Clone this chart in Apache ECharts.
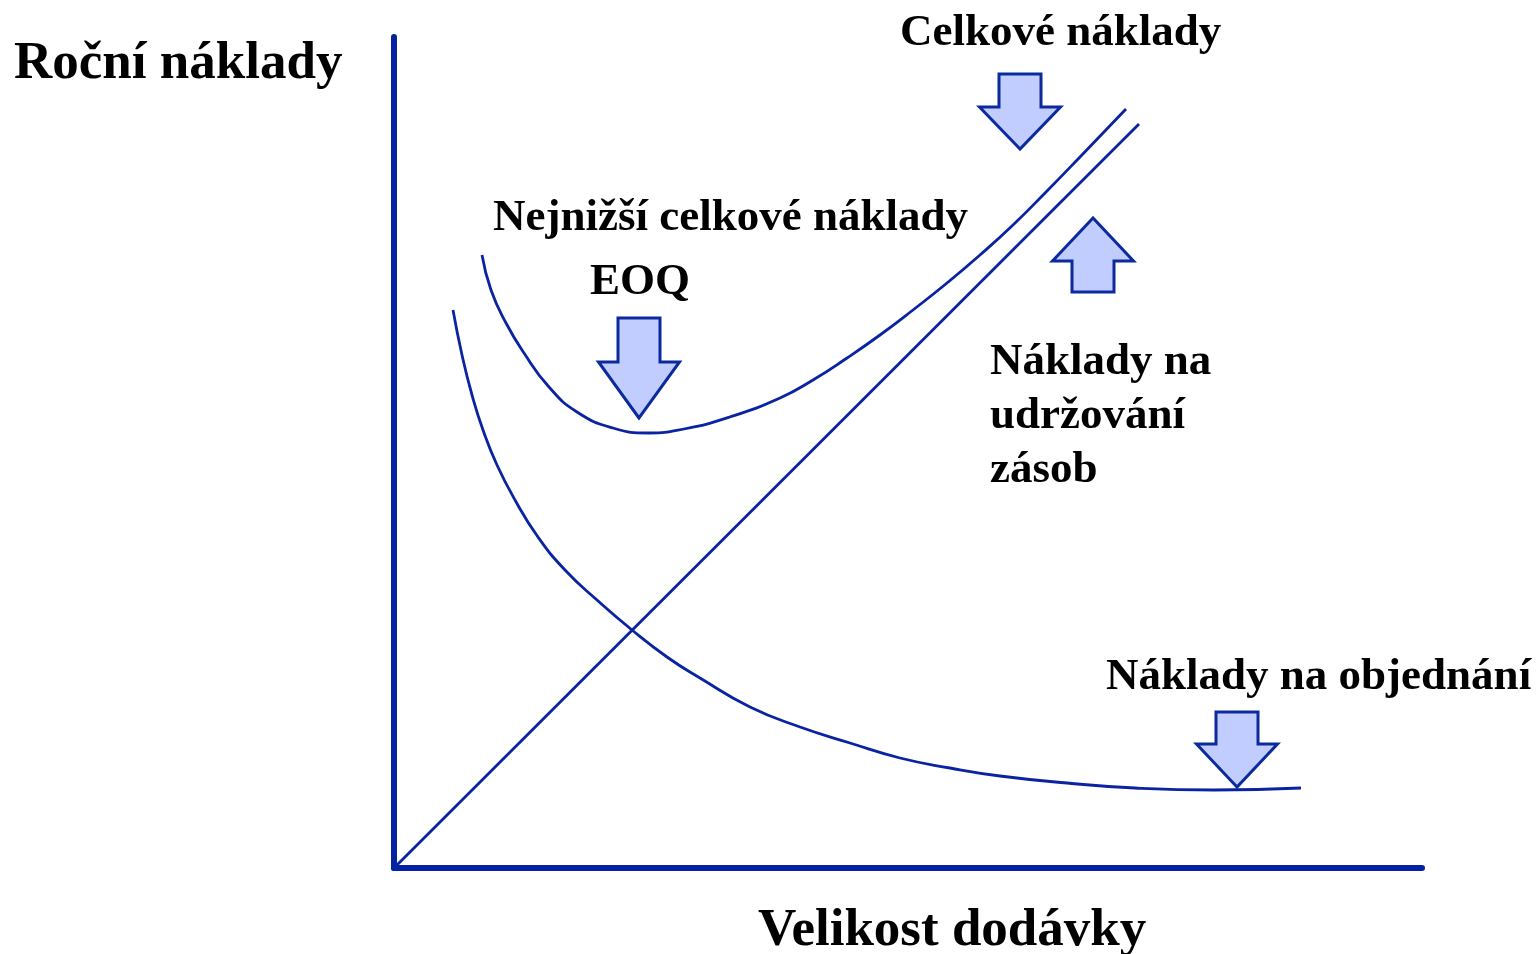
<!DOCTYPE html>
<html>
<head>
<meta charset="utf-8">
<script src="https://cdn.jsdelivr.net/npm/echarts@6/dist/echarts.min.js"></script>
<style>
html, body { margin: 0; padding: 0; background: #fff; }
#chart { width: 1539px; height: 954px; }
</style>
</head>
<body>
<div id="chart"></div>
<script>
// hodnoty, jednotky os = pixely od počátku os
// náklady na udržování zásob (přímka)
const holdingCost = [[2, 2], [745, 744]];
// náklady na objednání
const orderingCost = [
  [59, 558], [68, 513], [78, 473], [89, 438], [103, 403], [121, 368],
  [144, 331], [171, 298], [203, 268], [238, 238], [273, 211], [306, 190],
  [356, 161], [406, 141], [456, 125], [506, 110], [556, 100], [606, 92],
  [673, 85], [741, 80], [820, 78], [907, 80]
];
// celkové náklady
const totalCost = [
  [88, 613], [97, 578], [112, 545], [130, 515], [155, 481], [183, 456],
  [219, 440], [255, 435], [290, 439], [336, 451], [386, 470], [419, 488],
  [453, 510], [486, 533], [519, 558], [553, 585], [586, 613], [619, 643],
  [653, 677], [686, 711], [732, 759]
];
// špičky šipek (EOQ, celkové, udržování, objednání)
const arrowTips = [[245, 450], [626, 719], [699, 650], [843, 81]];

const lineColor = "#0a23a0";
const axisColor = "#0522a3";
// tvar šipek: směr, délka, výška hrotu (px)
const arrowShapes = [
  { dir: "down", len: 100, head: 56 },
  { dir: "down", len: 75, head: 42 },
  { dir: "up", len: 74, head: 43 },
  { dir: "down", len: 75, head: 43 },
];

const chart = echarts.init(document.getElementById("chart"));

const font = (size) => "bold " + size + 'px "Liberation Serif", "Times New Roman", serif';
// svislé zarovnání na střed řádku
const label = (text, x, y, size) => ({
  type: "text",
  x: x,
  y: y,
  z: 10,
  style: {
    text: text,
    font: font(size),
    fill: "#000",
    verticalAlign: "middle",
  },
});

const option = {
  animation: false,
  grid: { left: 394, top: 37, right: 117, bottom: 86 },
  xAxis: {
    type: "value",
    min: 0,
    max: 1028,
    axisLine: { show: true, lineStyle: { color: axisColor, width: 6 } },
    axisTick: { show: false },
    axisLabel: { show: false },
    splitLine: { show: false },
  },
  yAxis: {
    type: "value",
    min: 0,
    max: 831,
    axisLine: { show: true, lineStyle: { color: axisColor, width: 6 } },
    axisTick: { show: false },
    axisLabel: { show: false },
    splitLine: { show: false },
  },
  series: [
    {
      name: "Náklady na udržování zásob",
      type: "line",
      data: holdingCost,
      showSymbol: false,
      lineStyle: { color: lineColor, width: 2.8 },
    },
    {
      name: "Náklady na objednání",
      type: "line",
      data: orderingCost,
      smooth: 0.5,
      showSymbol: false,
      lineStyle: { color: lineColor, width: 2.8 },
    },
    {
      name: "Celkové náklady",
      type: "line",
      data: totalCost,
      smooth: 0.5,
      showSymbol: false,
      lineStyle: { color: lineColor, width: 2.8 },
    },
    {
      // blokové šipky
      type: "custom",
      clip: false,
      z: 5,
      data: arrowTips,
      renderItem: function (params, api) {
        const p = api.coord([api.value(0), api.value(1)]);
        const s = arrowShapes[params.dataIndex];
        const sign = s.dir === "down" ? -1 : 1;
        const pts = [
          [0, 0], [-40.5, s.head], [-21, s.head], [-21, s.len],
          [21, s.len], [21, s.head], [40.5, s.head],
        ].map((q) => [p[0] + q[0], p[1] + sign * q[1]]);
        return {
          type: "polygon",
          shape: { points: pts },
          style: { fill: "#c2cdff", stroke: "#0a2a9e", lineWidth: 3, lineJoin: "miter" },
        };
      },
    },
  ],
  graphic: [
    label("Roční náklady", 14, 64.5, 53),
    label("Velikost dodávky", 758, 931.5, 53),
    label("Celkové náklady", 900, 33, 45),
    label("Nejnižší celkové náklady", 493, 218, 45),
    label("EOQ", 590, 282, 45),
    label("Náklady na", 990, 362, 45),
    label("udržování", 990, 416, 45),
    label("zásob", 990, 470, 45),
    label("Náklady na objednání", 1106, 677, 45),
  ],
};

chart.setOption(option);
</script>
</body>
</html>
